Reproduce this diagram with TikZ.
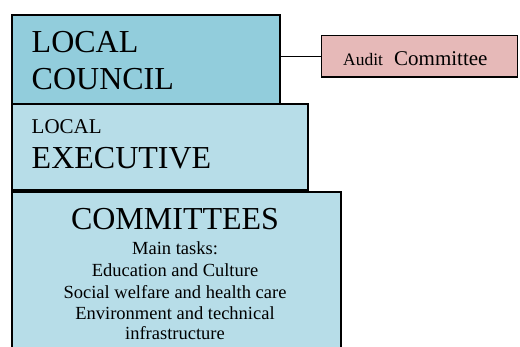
\documentclass[tikz,border=0pt]{standalone}
\usepackage{fontspec}
\setmainfont{Liberation Serif}
\definecolor{councilfill}{HTML}{92CDDC}
\definecolor{bodyfill}{HTML}{B7DDE8}
\definecolor{auditfill}{HTML}{E6B9B8}
\tikzset{
  orgbox/.style={draw=black, line width=1.8pt, rectangle, inner sep=0pt, anchor=north west},
  txt/.style={inner sep=0pt, anchor=base west},
  ctxt/.style={inner sep=0pt, anchor=base},
  big/.style={font=\fontsize{32}{36}\selectfont},
  small/.style={font=\fontsize{21}{24}\selectfont},
  task/.style={font=\fontsize{18.5}{21}\selectfont},
}
\begin{document}
\begin{tikzpicture}[x=1pt,y=-1pt]
  \useasboundingbox (0,0) rectangle (520,347);
  \clip (0,0) rectangle (520,347);
  % boxes
  \node[orgbox, fill=bodyfill, minimum width=329pt, minimum height=170pt] (committees) at (11,191) {};
  \node[orgbox, fill=bodyfill, minimum width=296pt, minimum height=86pt] (executive) at (11,103.5) {};
  \node[orgbox, fill=councilfill, minimum width=268pt, minimum height=89.5pt] (council) at (11,14) {};
  \node[orgbox, fill=auditfill, line width=1.3pt, minimum width=196pt, minimum height=41.5pt] (audit) at (321,35) {};
  % connector
  \draw[line width=1.3pt] (audit.west) -- (audit.west -| council.east);
  % council text
  \node[txt, big] (c1) at (31.5,53) {LOCAL};
  \node[txt, big] (c2) at (31.5,90) {COUNCIL};
  % executive text
  \node[txt, small] (e1) at (31.5,134) {LOCAL};
  \node[txt, big] (e2) at (31.5,169) {EXECUTIVE};
  % committees text
  \node[ctxt, big] (m0) at (175,230) {COMMITTEES};
  \node[ctxt, task] (m1) at (175,255) {Main tasks:};
  \node[ctxt, task] (m2) at (175,277) {Education and Culture};
  \node[ctxt, task] (m3) at (175,298.5) {Social welfare and health care};
  \node[ctxt, task] (m4) at (175,319.3) {Environment and technical};
  \node[ctxt, task] (m5) at (175,339.3) {infrastructure};
  % audit text
  \node[txt, font=\fontsize{17.5}{20}\selectfont] (a1) at (343,65.7) {Audit};
  \node[txt, font=\fontsize{21}{24}\selectfont] (a2) at (394,65.7) {Committee};
\end{tikzpicture}
\end{document}
